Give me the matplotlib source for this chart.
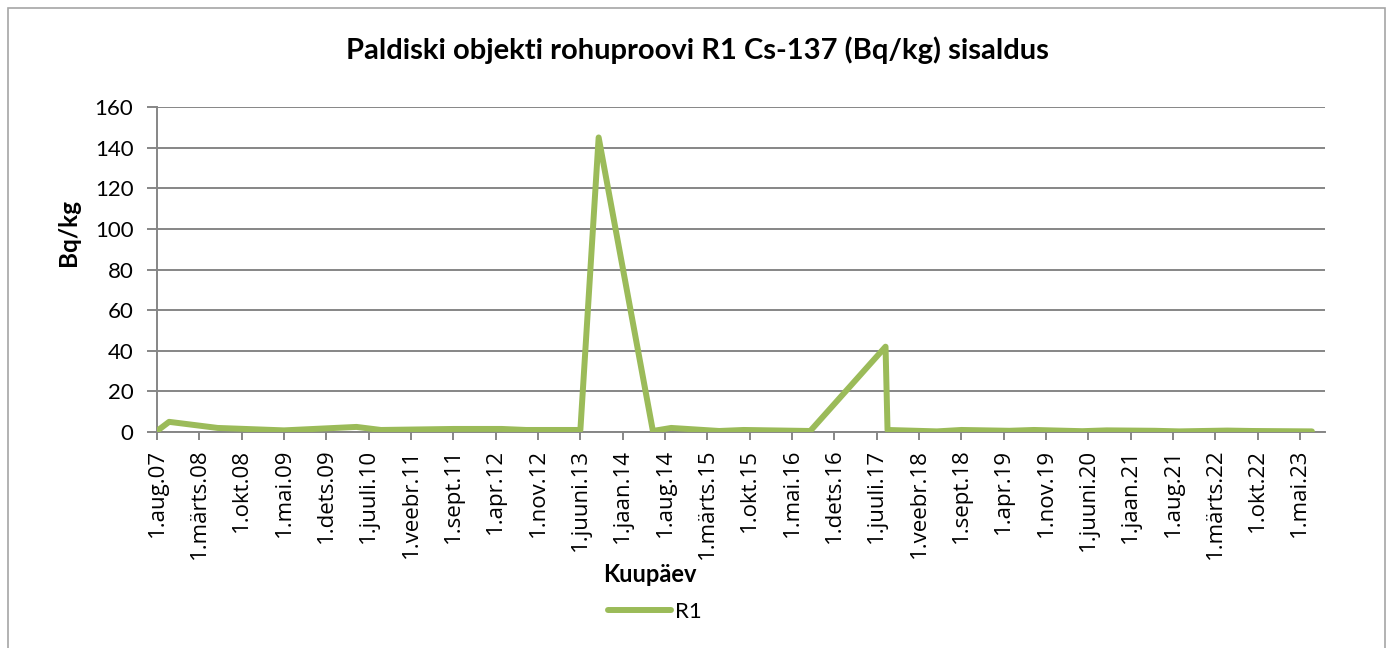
import matplotlib
matplotlib.use('Agg')
import matplotlib.pyplot as plt
from matplotlib.patches import Rectangle
from datetime import date

# Sample dates and Cs-137 values (Bq/kg)
dates = ['2007-08-01', '2007-10-01', '2008-06-01', '2009-05-01', '2010-05-01',
         '2010-09-01', '2011-09-01', '2012-05-01', '2012-09-01', '2013-06-01',
         '2013-09-01', '2014-06-01', '2014-09-01', '2015-05-01', '2015-09-01',
         '2016-08-01', '2017-08-15', '2017-08-25', '2018-05-01', '2018-09-01',
         '2019-05-01', '2019-09-01', '2020-05-01', '2020-09-01', '2021-05-01',
         '2021-09-01', '2022-05-01', '2022-09-01', '2023-07-01']
r1 = [0.5, 5, 2, 0.8, 2.5,
      1, 1.5, 1.5, 1, 1,
      145, 0.5, 2, 0.5, 1,
      0.5, 42, 1, 0.3, 1,
      0.6, 1, 0.4, 0.8, 0.6,
      0.3, 0.7, 0.5, 0.3]

months_et = ['jaan', 'veebr', 'märts', 'apr', 'mai', 'juuni',
             'juuli', 'aug', 'sept', 'okt', 'nov', 'dets']

plt.rcParams['font.family'] = ['Lato', 'DejaVu Sans']

W, H = 1392, 648
fig = plt.figure(figsize=(W / 100, H / 100), dpi=100)
fig.patches.append(Rectangle((8 / W, -0.05), 1377 / W, 1.05 - 8 / H,
                             transform=fig.transFigure, fill=False,
                             edgecolor='#a6a6a6', linewidth=1.2))
ax = fig.add_axes([157 / W, 1 - 432 / H, (1325 - 157) / W, (432 - 107) / H])

x = [date.fromisoformat(d) for d in dates]
line, = ax.plot(x, r1, color='#9BBB59', linewidth=4.3, solid_joinstyle='round',
                solid_capstyle='round', label='R1', zorder=3)

# tick every 7 months from aug 2007
ticks = []
y, m = 2007, 8
while (y, m) <= (2023, 5):
    ticks.append(date(y, m, 1))
    m += 7
    if m > 12:
        m -= 12
        y += 1
ax.set_xticks(ticks)
ax.set_xticklabels(['1.%s.%02d' % (months_et[t.month - 1], t.year % 100) for t in ticks],
                   rotation=90)
for lab in ax.get_xticklabels():
    lab.set_fontfamily(['Open Sans', 'DejaVu Sans'])
    lab.set_fontsize(16)
ax.set_xlim(date(2007, 8, 1), date(2023, 9, 5))

ax.set_ylim(0, 160)
ax.set_yticks(range(0, 161, 20))
ax.tick_params(axis='y', labelsize=16, length=7, pad=10, color='#868686', width=1.4)
ax.tick_params(axis='x', length=6, pad=6, color='#868686', width=1.4)
ax.grid(axis='y', color='#868686', linewidth=1.4)
ax.set_axisbelow(True)
for s in ['top', 'right']:
    ax.spines[s].set_visible(False)
for s in ['left', 'bottom']:
    ax.spines[s].set_color('#868686')
    ax.spines[s].set_linewidth(1.4)

fig.text(68 / W, 1 - 232 / H, 'Bq/kg', rotation=90, fontsize=17.5, fontweight='bold',
         ha='center', va='center')
fig.text(650 / W, 1 - 575 / H, 'Kuupäev', fontsize=17, fontweight='bold',
         ha='center', va='center')
fig.text(697 / W, 1 - 50 / H, 'Paldiski objekti rohuproovi R1 Cs-137 (Bq/kg) sisaldus',
         fontsize=21, fontweight='bold', ha='center', va='center')

fig.legend(handles=[line], loc='center', bbox_to_anchor=(655 / W, 1 - 612 / H),
           frameon=False, fontsize=16, handlelength=2.8, handletextpad=0.2)

fig.savefig('out.png', dpi=100)
